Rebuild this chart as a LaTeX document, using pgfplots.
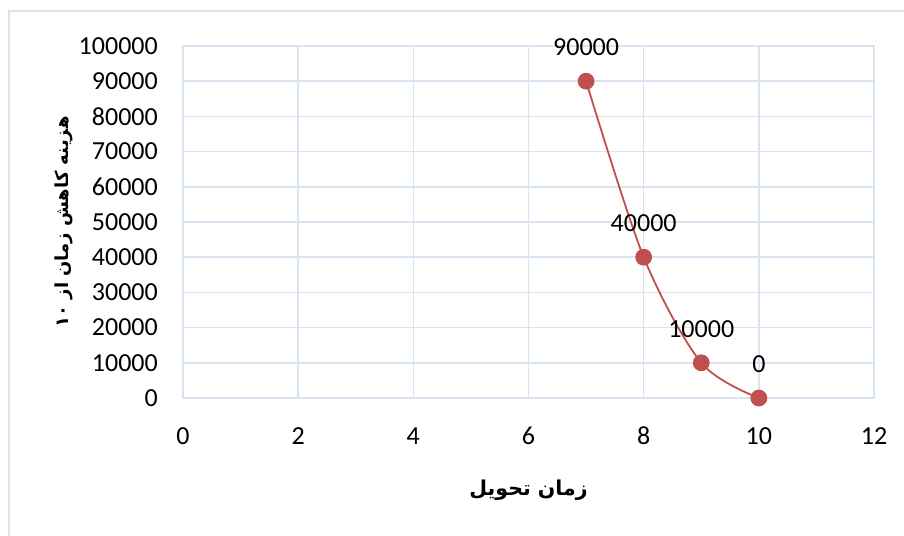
\documentclass[border=0pt]{standalone}
\usepackage{fontspec}
\setmainfont{Carlito}
\newfontfamily\arabicfont[Script=Arabic]{DejaVu Sans}
\TeXXeTstate=1
\usepackage{pgfplots}
\pgfplotsset{compat=1.18}
\definecolor{gridc}{RGB}{217,228,242}
\definecolor{ser}{RGB}{192,80,77}
\begin{document}
\begin{tikzpicture}
\useasboundingbox (0pt,0pt) rectangle (904pt,535pt);
\fill[white] (0pt,0pt) rectangle (904pt,535pt);
\draw[gridc, line width=1.5pt] (9pt,-5pt) rectangle (910pt,524pt);
\begin{axis}[at={(183pt,137pt)}, anchor=south west, scale only axis,
  width=691pt, height=352pt,
  xmin=0, xmax=12, ymin=0, ymax=100000,
  xtick={0,2,...,12}, ytick={0,10000,...,100000},
  grid=major, major grid style={gridc, line width=1.5pt},
  axis line style={gridc, line width=1.5pt}, tick style={draw=none},
  /pgf/number format/assume math mode=true, scaled y ticks=false,
  yticklabel style={/pgf/number format/fixed, /pgf/number format/1000 sep={}, anchor=east, inner sep=0pt, xshift=-25pt},
  xticklabel style={anchor=center, inner sep=0pt, yshift=-38pt},
  ticklabel style={font=\fontsize{26}{29}\selectfont},
  xlabel={\arabicfont\bfseries\beginR زمان تحویل\endR},
  ylabel={\arabicfont\bfseries\beginR هزینه کاهش زمان از ۱۰\endR},
  xlabel style={at={(axis description cs:0.5,-0.261)}, anchor=center, font=\fontsize{20.5}{23}\selectfont},
  ylabel style={at={(axis description cs:-0.172,0.5)}, anchor=center, font=\fontsize{18}{21}\selectfont},
  clip=false]
\addplot[ser, line width=1.8pt, smooth, mark=*, mark size=7.5pt, mark options={fill=ser, draw=ser},
  nodes near coords, nodes near coords style={font=\fontsize{26}{29}\selectfont, black, anchor=center, yshift=34pt,
  /pgf/number format/fixed, /pgf/number format/1000 sep={}}]
  coordinates {(7,90000) (8,40000) (9,10000) (10,0)};
\end{axis}
\end{tikzpicture}
\end{document}
